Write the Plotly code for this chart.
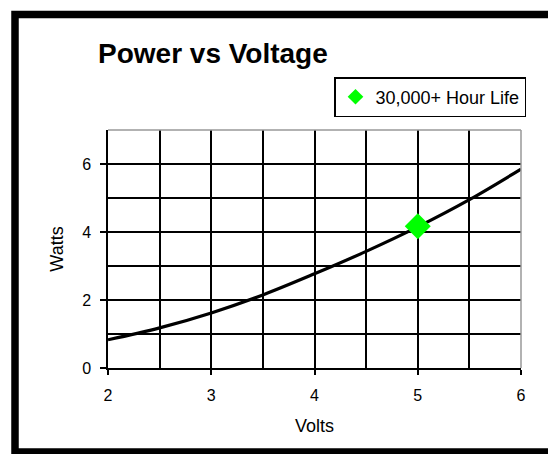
import plotly.graph_objects as go

# Data
volts = [2.0, 2.5, 3.0, 3.5, 4.0, 4.5, 5.0, 5.5, 6.0]
watts = [0.83, 1.18, 1.62, 2.15, 2.77, 3.43, 4.15, 4.95, 5.85]

life_volts = [5.0]
life_watts = [4.17]
life_name = "30,000+ Hour Life"

x_tickvals = [2, 3, 4, 5, 6]
y_tickvals = [0, 2, 4, 6]

FONT = "Liberation Sans, Arial, sans-serif"

fig = go.Figure()
fig.add_trace(go.Scatter(
    x=volts, y=watts, mode="lines", line=dict(color="black", width=3.2, shape="spline"),
    showlegend=False, hoverinfo="skip"))
fig.add_trace(go.Scatter(
    x=life_volts, y=life_watts, mode="markers", name=life_name,
    marker=dict(symbol="diamond", size=20, color="#00ff00", line=dict(width=0))))

W, H = 556, 454
L, R, T, B = 100, 43, 122, 94
pw, ph = W - L - R, H - T - B

def px_x(p):
    return (p - L) / pw

def px_y(p):
    return 1 - (p - T) / ph

fig.update_layout(
    width=W, height=H,
    margin=dict(l=L, r=R, t=T, b=B, autoexpand=False),
    paper_bgcolor="white", plot_bgcolor="white",
    font=dict(family=FONT, color="black", size=16),
    title=dict(text="<b>Power vs Voltage</b>", font=dict(family=FONT, size=28, color="black"),
               xref="container", yref="container", x=90 / W, xanchor="left",
               y=1 - 45 / H, yanchor="middle"),
    legend=dict(x=px_x(326), y=px_y(69), xanchor="left", yanchor="top",
                bordercolor="black", borderwidth=1.5, bgcolor="white",
                font=dict(family=FONT, size=18, color="black"),
                itemwidth=30, itemsizing="constant"),
    xaxis=dict(range=[2, 6], tickvals=x_tickvals, ticks="outside", ticklen=5, tickwidth=1.5,
               tickcolor="black", showline=True, linecolor="black", linewidth=1.5,
               showgrid=True, gridcolor="black", gridwidth=1.5, zeroline=False,
               minor=dict(dtick=0.5, tick0=2, showgrid=True, gridcolor="black", gridwidth=1.5, ticks=""),
               ticklabelstandoff=7, tickfont=dict(size=16),
               title=dict(text="Volts", font=dict(size=18), standoff=16),
               automargin=False, fixedrange=True),
    yaxis=dict(range=[0, 7], tickvals=y_tickvals, ticks="outside", ticklen=6, tickwidth=1.5,
               tickcolor="black", showline=True, linecolor="black", linewidth=1.5,
               showgrid=True, gridcolor="black", gridwidth=1.5, zeroline=False,
               minor=dict(dtick=1, tick0=0, showgrid=True, gridcolor="black", gridwidth=1.5, ticks=""),
               ticklabelstandoff=6, tickfont=dict(size=16),
               title=dict(text="Watts", font=dict(size=18), standoff=14),
               automargin=False, fixedrange=True),
    shapes=[
        # grey top and right plot-area edges
        dict(type="line", xref="paper", yref="paper", x0=0, x1=1, y0=1, y1=1,
             line=dict(color="#999999", width=1.5), layer="above"),
        dict(type="line", xref="paper", yref="paper", x0=1, x1=1, y0=0, y1=1,
             line=dict(color="#999999", width=1.5), layer="above"),
        # thick outer frame
        dict(type="rect", xref="paper", yref="paper",
             x0=px_x(7), x1=px_x(548), y0=px_y(444), y1=px_y(6.5),
             line=dict(color="black", width=7.5), fillcolor="rgba(0,0,0,0)", layer="above"),
    ],
)

fig.write_html("out.html")
